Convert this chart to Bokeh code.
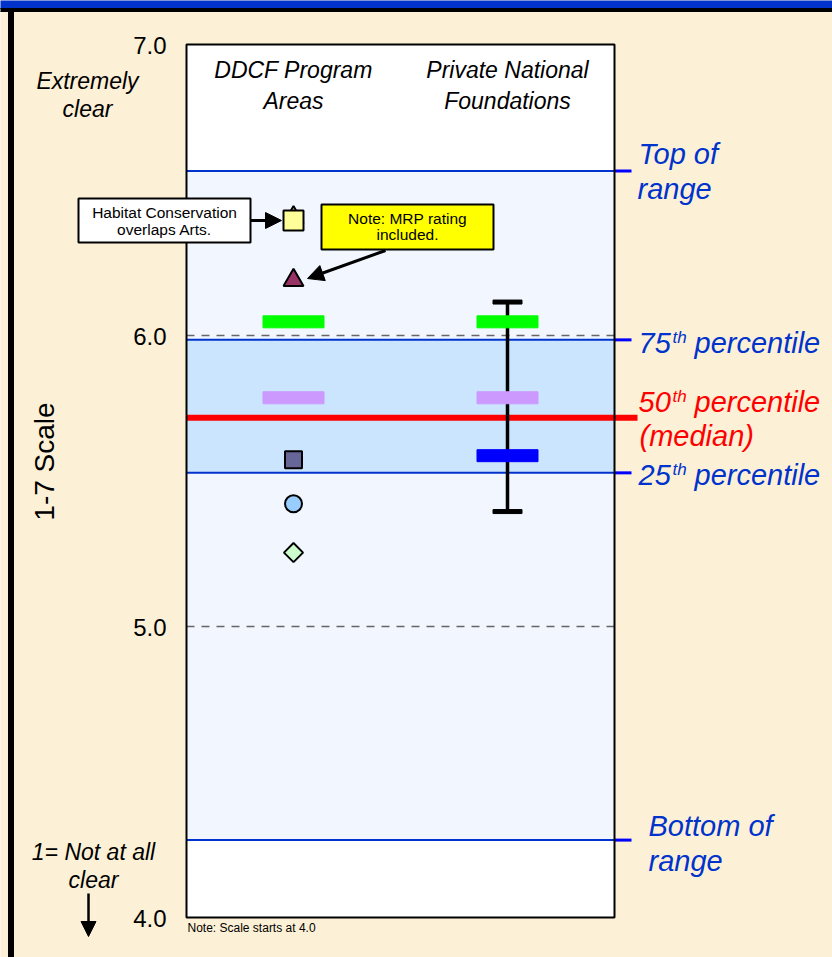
import math
from bokeh.plotting import figure
from bokeh.models import Range1d, Arrow, NormalHead, ColumnDataSource
from bokeh.core.properties import value
from bokeh.embed import file_html
from bokeh.resources import INLINE

# ---------------- data ----------------
categories = ["DDCF Program Areas", "Private National Foundations"]
header_lines = [["DDCF Program", "Areas"], ["Private National", "Foundations"]]
y_ticks = [4.0, 5.0, 6.0, 7.0]
y_tick_labels = ["4.0", "5.0", "6.0", "7.0"]
grid_values = [5.0, 6.0]

range_top = 6.565
pct75 = 5.985
pct50 = 5.717
pct25 = 5.528
range_bottom = 4.266

# DDCF program-area points (Arts, Habitat Conservation, ... )
ddcf_area_values = [6.405, 6.395, 6.19, 5.573, 5.422, 5.254]
green_bar_values = [6.047, 6.047]
lavender_bar_values = [5.786, 5.786]
pnf_blue_value = 5.587
pnf_low = 5.395
pnf_high = 6.115

# ---------------- styles ----------------
ddcf_markers = ["triangle", "square", "triangle", "square", "circle", "square"]
ddcf_colors = ["#FFCC99", "#FFFF99", "#993366", "#666699", "#99CCFF", "#CCFFCC"]
ddcf_sizes = [20, 20, 20, 17, 17, 13.5]
ddcf_angles = [0, 0, 0, 0, 0, math.pi / 4]

CREAM = "#FCF1D6"
BLUE = "#0033CC"
FONT = value("Liberation Sans")
SHIFT = 0.33  # baseline correction, in em

W, H = 832, 957
# screen-pixel helpers for layout (frame box: x 186..614, y 7.0 at 44, 4.0 at 917)
PX_PER_UNIT = (917 - 44) / 3.0
def X(sx):
    return (sx - 186) / 428.0
def Y(sy):
    return 7.0 - (sy - 44) / PX_PER_UNIT

cat_x = [(i + 0.5) / len(categories) for i in range(len(categories))]

p = figure(width=W, height=H,
           x_range=Range1d(X(0), X(W)), y_range=Range1d(Y(H), Y(0)),
           output_backend="svg", toolbar_location=None, min_border=0,
           x_axis_location=None, y_axis_location=None,
           background_fill_color=CREAM, border_fill_color=CREAM,
           outline_line_color=None)
p.grid.grid_line_color = None

def txt(x, sy, s, size, color="black", align="center", style="normal", angle=0):
    """x in data units, sy = baseline in screen px"""
    p.text(x=[x], y=[Y(sy - SHIFT * size)], text=[s], text_font=FONT,
           text_font_size=f"{size}px", text_color=color, text_align=align,
           text_baseline="alphabetic", text_font_style=style, angle=angle)

# page decorations
p.quad(left=X(-5), right=X(840), top=Y(-5), bottom=Y(8), color="#0033CC")
p.quad(left=X(-5), right=X(840), top=Y(8), bottom=Y(11), color="black")
p.quad(left=X(8), right=X(13), top=Y(8), bottom=Y(960), color="black")

# plot box and bands
p.quad(left=0, right=1, bottom=4, top=7, fill_color="white", line_color=None)
p.quad(left=0, right=1, bottom=range_bottom, top=range_top, fill_color="#F2F7FF", line_color=None)
p.quad(left=0, right=1, bottom=pct25, top=pct75, fill_color="#CCE5FF", line_color=None)
p.segment(x0=0, x1=1, y0=grid_values, y1=grid_values, line_color="#666666",
          line_dash="8 7", line_width=1.5)

levels = [range_top, pct75, pct25, range_bottom]
p.segment(x0=0, x1=1, y0=levels, y1=levels, line_color=BLUE, line_width=2)
p.segment(x0=1, x1=X(631), y0=levels, y1=levels, line_color="#0000FF", line_width=3)
p.segment(x0=0, x1=X(637), y0=pct50, y1=pct50, line_color="#FF0000", line_width=6)

# error bar for Private National Foundations
p.segment(x0=cat_x[1], x1=cat_x[1], y0=pnf_low, y1=pnf_high, line_color="black", line_width=3.5)
p.rect(x=cat_x[1], y=[pnf_low, pnf_high], width=29, height=4,
       width_units="screen", height_units="screen", color="black")

# bars
p.rect(x=cat_x, y=green_bar_values, width=61, height=12,
       width_units="screen", height_units="screen", color="#00FF00")
p.rect(x=cat_x, y=lavender_bar_values, width=61, height=12,
       width_units="screen", height_units="screen", color="#CC99FF")
p.rect(x=cat_x[1], y=pnf_blue_value, width=61, height=12,
       width_units="screen", height_units="screen", color="#0000FF")

# DDCF markers
src = ColumnDataSource(dict(x=[cat_x[0]] * len(ddcf_area_values), y=ddcf_area_values,
                            marker=ddcf_markers, color=ddcf_colors, size=ddcf_sizes,
                            angle=ddcf_angles))
p.scatter(x="x", y="y", marker="marker", fill_color="color", size="size", angle="angle",
          line_color="black", line_width=2, source=src)

# box outline
p.quad(left=0, right=1, bottom=4, top=7, fill_color=None, line_color="black", line_width=2)

# tick labels
p.text(x=X(166), y=[v - (8.5 - SHIFT * 24) / PX_PER_UNIT for v in y_ticks], text=y_tick_labels,
       text_font=FONT, text_font_size="24px", text_align="right",
       text_baseline="alphabetic", text_color="black")

# column headers
for cx, lines in zip(cat_x, header_lines):
    txt(cx, 77, lines[0], 23, style="italic")
    txt(cx, 108, lines[1], 23, style="italic")

# left texts
txt(X(87), 88, "Extremely", 23, style="italic")
txt(X(87), 116, "clear", 23, style="italic")
txt(X(93), 859, "1= Not at all", 23, style="italic")
txt(X(93), 887, "clear", 23, style="italic")
p.text(x=[X(44)], y=[Y(461)], text=["1-7 Scale"], text_font=FONT, text_font_size="28px",
       text_color="black", text_align="center", text_baseline="alphabetic",
       angle=math.pi / 2)
txt(X(187), 931, "Note: Scale starts at 4.0", 12, align="left")

# right labels
txt(X(638), 163, "Top of", 29, color=BLUE, align="left", style="italic")
txt(X(637), 198, "range", 29, color=BLUE, align="left", style="italic")
for num, base, color in [("75", 352, BLUE), ("50", 411, "#FF0000"), ("25", 484, BLUE)]:
    txt(X(638), base, num, 29, color=color, align="left", style="italic")
    txt(X(672), base - 9, "th", 17, color=color, align="left", style="italic")
    txt(X(694), base, "percentile", 29, color=color, align="left", style="italic")
txt(X(639), 445, "(median)", 29, color="#FF0000", align="left", style="italic")
txt(X(648), 835, "Bottom of", 29, color=BLUE, align="left", style="italic")
txt(X(648), 870, "range", 29, color=BLUE, align="left", style="italic")

# annotation boxes
p.quad(left=X(78), right=X(250), top=Y(198), bottom=Y(242), fill_color="white",
       line_color="black", line_width=2)
txt(X(164), 217, "Habitat Conservation", 15.5)
txt(X(164), 234, "overlaps Arts.", 15.5)
p.add_layout(Arrow(end=NormalHead(size=16, fill_color="black", line_color="black"),
                   x_start=X(250), y_start=Y(220), x_end=X(281), y_end=Y(220),
                   line_width=3, line_color="black"))

p.quad(left=X(321), right=X(493), top=Y(204), bottom=Y(249), fill_color="#FFFF00",
       line_color="black", line_width=2)
txt(X(407), 223, "Note: MRP rating", 15.5)
txt(X(407), 239, "included.", 15.5)
p.add_layout(Arrow(end=NormalHead(size=16, fill_color="black", line_color="black"),
                   x_start=X(385), y_start=Y(250), x_end=X(307), y_end=Y(278),
                   line_width=3, line_color="black"))

# down arrow
p.add_layout(Arrow(end=NormalHead(size=15, fill_color="black", line_color="black"),
                   x_start=X(88), y_start=Y(893), x_end=X(88), y_end=Y(936),
                   line_width=2.5, line_color="black"))

open("out.html", "w").write(file_html(p, INLINE))
